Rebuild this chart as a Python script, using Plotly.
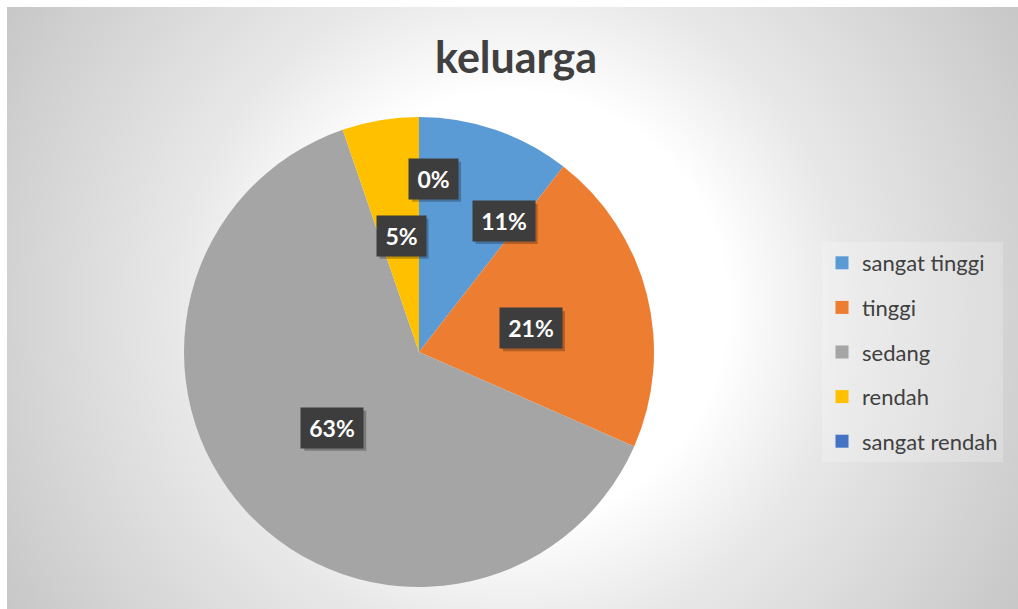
import math
import base64
import plotly.graph_objects as go

# ---- data ----
categories = ["sangat tinggi", "tinggi", "sedang", "rendah", "sangat rendah"]
values = [2, 4, 12, 1, 0]
colors = ["#5B9BD5", "#ED7D31", "#A5A5A5", "#FFC000", "#4472C4"]
title_text = "keluarga"

# ---- style / geometry ----
W, H = 1011, 602
CX, CY, R = 412, 345, 235          # pie centre and radius in figure pixels
label_rfrac = [0.664, 0.487, 0.49, 0.50, 0.74]
label_dangle = [13.9, 2.2, 1.5, 0.7, 4.8]
FONT = "Lato"
TXT = "#404040"

total = sum(values)
pcts = [round(v / total * 100) for v in values]

# radial gradient background
svg = (
    f'<svg xmlns="http://www.w3.org/2000/svg" width="{W}" height="{H}" viewBox="0 0 {W} {H}" preserveAspectRatio="none">'
    '<defs><radialGradient id="g" gradientUnits="userSpaceOnUse" cx="505" cy="300" r="595">'
    '<stop offset="0" stop-color="#ffffff"/><stop offset="0.36" stop-color="#ffffff"/>'
    '<stop offset="0.56" stop-color="#e8e8e8"/><stop offset="0.85" stop-color="#d2d2d2"/>'
    '<stop offset="1" stop-color="#c6c6c6"/></radialGradient></defs>'
    '<rect width="100%" height="100%" fill="url(#g)"/></svg>'
)
bg_src = "data:image/svg+xml;base64," + base64.b64encode(svg.encode()).decode()

fig = go.Figure()
fig.add_trace(go.Pie(
    labels=categories, values=values, sort=False, direction="clockwise", rotation=0,
    marker=dict(colors=colors, line=dict(width=0)),
    textinfo="none", showlegend=False,
    domain=dict(x=[(CX - R) / W, (CX + R) / W], y=[(H - CY - R) / H, (H - CY + R) / H]),
))

# legend proxies
for cat, col in zip(categories, colors):
    fig.add_trace(go.Scatter(
        x=[None], y=[None], mode="markers", name=cat, legendgroup=cat,
        marker=dict(symbol="square", size=13, color=col), hoverinfo="skip",
    ))

# data labels (dark boxes with a soft drop shadow)
annotations = []
shapes = []
cum = 0
for i, (v, p) in enumerate(zip(values, pcts)):
    mid = (cum + v / 2) / total * 360
    cum += v
    th = math.radians(mid + label_dangle[i])
    r = label_rfrac[i] * R
    xp = (CX + r * math.sin(th)) / W
    yp = (H - CY + r * math.cos(th)) / H
    bw = 26 + 13 * len(str(p))
    half_w = bw / 2 + 5
    shapes.append(dict(
        type="rect", xref="paper", yref="paper", xsizemode="pixel", ysizemode="pixel",
        xanchor=xp, yanchor=yp, x0=-half_w + 3, x1=half_w + 3, y0=-20 - 3, y1=20 - 3,
        fillcolor="rgba(0,0,0,0.25)", line=dict(width=0), layer="above",
    ))
    annotations.append(dict(
        x=xp, y=yp, xref="paper", yref="paper", text=f"{p}%", showarrow=False,
        xanchor="center", yanchor="middle", borderpad=5, width=bw, height=30,
        align="center", valign="middle", bgcolor="#3d3d3d",
        font=dict(family=FONT, size=23, color="#ffffff", weight="bold"),
    ))

fig.update_layout(
    width=W, height=H, margin=dict(l=0, r=0, t=0, b=0),
    paper_bgcolor="#dcdcdc", plot_bgcolor="rgba(0,0,0,0)",
    images=[dict(source=bg_src, xref="paper", yref="paper", x=0, y=1, sizex=1, sizey=1,
                 xanchor="left", yanchor="top", sizing="stretch", layer="below")],
    title=dict(text=title_text, x=509 / W, xanchor="center", y=1 - 51 / H, yanchor="middle",
               font=dict(family=FONT, size=43, color=TXT, weight="bold")),
    xaxis=dict(visible=False), yaxis=dict(visible=False),
    legend=dict(x=815 / W, xanchor="left", y=(H - 345) / H, yanchor="middle",
                font=dict(family=FONT, size=22, color=TXT), tracegroupgap=13,
                bgcolor="rgba(255,255,255,0.22)", borderwidth=0, itemclick=False,
                itemdoubleclick=False),
    shapes=shapes,
    annotations=annotations,
)

fig.write_html("out.html", post_script="document.body.style.margin='7px 0 0 7px';document.body.style.overflow='hidden';")
